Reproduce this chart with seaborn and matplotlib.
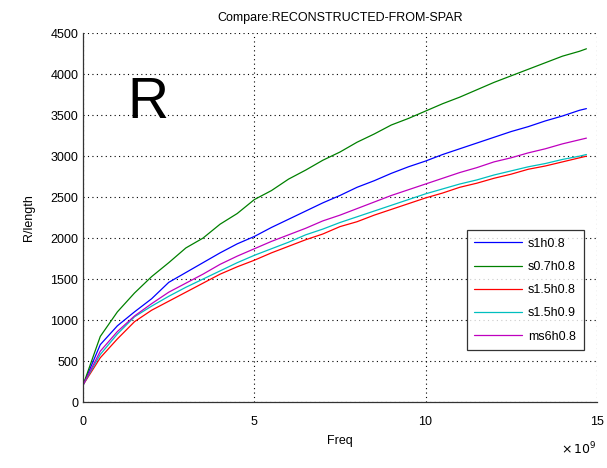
import matplotlib
matplotlib.use("Agg")
import matplotlib.pyplot as plt
import seaborn as sns
import pandas as pd

# Frequency samples in units of 1e9 Hz
freq = [0, 0.5, 1, 1.5, 2, 2.5, 3, 3.5, 4, 4.5, 5, 5.5, 6, 6.5, 7, 7.5, 8, 8.5,
        9, 9.5, 10, 10.5, 11, 11.5, 12, 12.5, 13, 13.5, 14, 14.5, 14.7]

s1h08 = [210, 700, 930, 1100, 1260, 1460, 1580, 1700, 1820, 1930, 2020, 2130,
         2230, 2330, 2430, 2520, 2620, 2700, 2790, 2870, 2940, 3020, 3090, 3160,
         3230, 3300, 3360, 3430, 3490, 3560, 3580]
s07h08 = [210, 800, 1100, 1330, 1530, 1700, 1880, 2000, 2170, 2300, 2470, 2580,
          2720, 2830, 2950, 3050, 3170, 3270, 3380, 3460, 3550, 3640, 3720, 3810,
          3900, 3980, 4060, 4140, 4220, 4280, 4310]
s15h08 = [210, 540, 770, 980, 1120, 1230, 1340, 1450, 1560, 1650, 1730, 1820,
          1900, 1980, 2050, 2140, 2200, 2280, 2350, 2420, 2490, 2550, 2620, 2670,
          2730, 2780, 2840, 2880, 2930, 2980, 3000]
s15h09 = [210, 580, 830, 1040, 1170, 1290, 1400, 1500, 1600, 1700, 1790, 1870,
          1950, 2040, 2110, 2190, 2260, 2330, 2400, 2470, 2540, 2600, 2660, 2710,
          2770, 2820, 2870, 2910, 2960, 3000, 3020]
ms6h08 = [210, 620, 860, 1050, 1200, 1340, 1450, 1560, 1680, 1780, 1870, 1960,
          2040, 2120, 2210, 2280, 2360, 2440, 2520, 2590, 2660, 2730, 2800, 2860,
          2930, 2980, 3040, 3090, 3150, 3200, 3220]

series_names = ["s1h0.8", "s0.7h0.8", "s1.5h0.8", "s1.5h0.9", "ms6h0.8"]
series_values = [s1h08, s07h08, s15h08, s15h09, ms6h08]
colors = ["#0000ff", "#008000", "#ff0000", "#00bfbf", "#bf00bf"]

frames = [pd.DataFrame({"Freq": freq, "R": v, "series": n})
          for n, v in zip(series_names, series_values)]
df = pd.concat(frames, ignore_index=True)

sns.set_style("white")
plt.rcParams["font.family"] = ["Liberation Sans", "DejaVu Sans"]
plt.rcParams["text.color"] = "black"
plt.rcParams["axes.labelcolor"] = "black"

fig = plt.figure(figsize=(6.07, 4.68), dpi=100)
ax = fig.add_axes([0.137, 0.141, 0.846, 0.788])

sns.lineplot(data=df, x="Freq", y="R", hue="series", hue_order=series_names,
             palette=colors, linewidth=0.9, ax=ax, estimator=None, sort=False)

ax.set_xlim(0, 15)
ax.set_ylim(0, 4500)
ax.set_xticks([0, 5, 10, 15])
ax.set_yticks(range(0, 4501, 500))
ax.tick_params(direction="in", length=4, labelsize=9, colors="black")
ax.tick_params(axis="x", pad=10)
ax.grid(True, linestyle=(0, (1, 3)), color="black", linewidth=0.8)
for side in ("top", "right"):
    ax.spines[side].set_visible(False)
for side in ("left", "bottom"):
    ax.spines[side].set_color("#333333")
    ax.spines[side].set_linewidth(0.9)

ax.set_xlabel("Freq", fontsize=9, labelpad=5)
ax.set_ylabel("R/length", fontsize=9, labelpad=11)
ax.set_title("Compare:RECONSTRUCTED-FROM-SPAR", fontsize=9, pad=9)
ax.text(1.0, -0.105, r"$\times\,10^{9}$", transform=ax.transAxes,
        ha="right", va="top", fontsize=9)

ax.text(0.086, 0.81, "R", transform=ax.transAxes, fontsize=41,
        ha="left", va="center")

leg = ax.legend(loc="upper left", bbox_to_anchor=(0.747, 0.466),
                fontsize=9, frameon=True, fancybox=False, edgecolor="black",
                handlelength=3.8, handletextpad=0.5, labelspacing=0.9,
                borderpad=0.6, borderaxespad=0.0)
leg.get_frame().set_linewidth(0.9)

fig.savefig("out.png", dpi=100)
